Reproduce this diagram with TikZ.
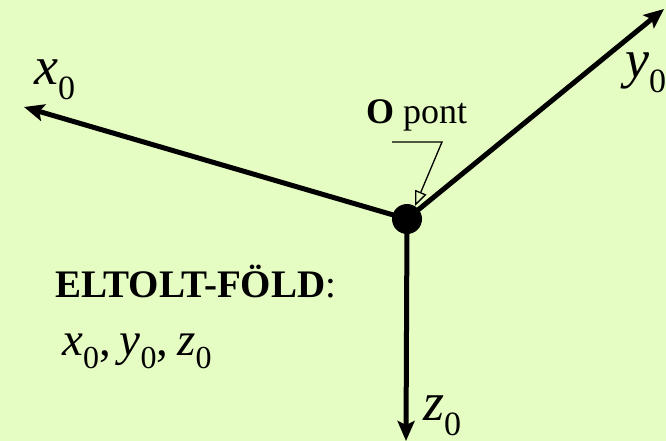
\documentclass[tikz,border=0pt]{standalone}
\usepackage{fontspec}
\setmainfont{Liberation Serif}
\newfontfamily\tms{Liberation Serif}
\usetikzlibrary{arrows.meta}
\definecolor{bgg}{RGB}{229,252,194}
\newcommand\axl[1]{{\fontsize{54}{54}\selectfont\itshape #1}\raisebox{-15pt}{\fontsize{34}{34}\selectfont 0}}
\newcommand\lsym[1]{{\fontsize{47}{47}\selectfont\itshape #1}\raisebox{-13pt}{\fontsize{32}{32}\selectfont 0}}
\begin{document}
\begin{tikzpicture}[x=1pt,y=-1pt,
  font=\tms,
  axis/.style={line width=5pt,-{Stealth[length=20pt,width=17pt,inset=4pt]}},
  lab/.style={anchor=base west,inner sep=0pt},
  call/.style={line width=1.3pt}]
\fill[bgg] (0,0) rectangle (666,441);
\useasboundingbox (0,0) rectangle (666,441);
\coordinate (O) at (407,219);
\coordinate (X) at (24,107);
\coordinate (Y) at (664,9);
\coordinate (Z) at (406,441);
\draw[axis] (O) -- (X);
\draw[axis] (O) -- (Y);
\draw[axis] (O) -- (Z);
\fill (O) circle (15pt);
\node[lab] (xl) at (34,85) {\axl{x}};
\node[lab] (yl) at (625,78) {\axl{y}};
\node[lab] (zl) at (423,420) {\axl{z}};
\node[lab] (op) at (366,124) {\fontsize{36}{36}\selectfont\textbf{O} pont};
\coordinate (c1) at (392,142);
\coordinate (c2) at (442,142);
\coordinate (ct) at (415,206);
\draw[call,-{Triangle[open,length=15pt,width=12pt]}] (c1) -- (c2) -- (ct);
\node[lab] (el) at (55,297) {\fontsize{39}{39}\selectfont\textbf{ELTOLT-FÖLD}:};
\node[lab] (vl) at (62,355) {\fontsize{47}{47}\selectfont\lsym{x},\hspace{9pt}\lsym{y},\hspace{9pt}\lsym{z}};
\end{tikzpicture}
\end{document}
